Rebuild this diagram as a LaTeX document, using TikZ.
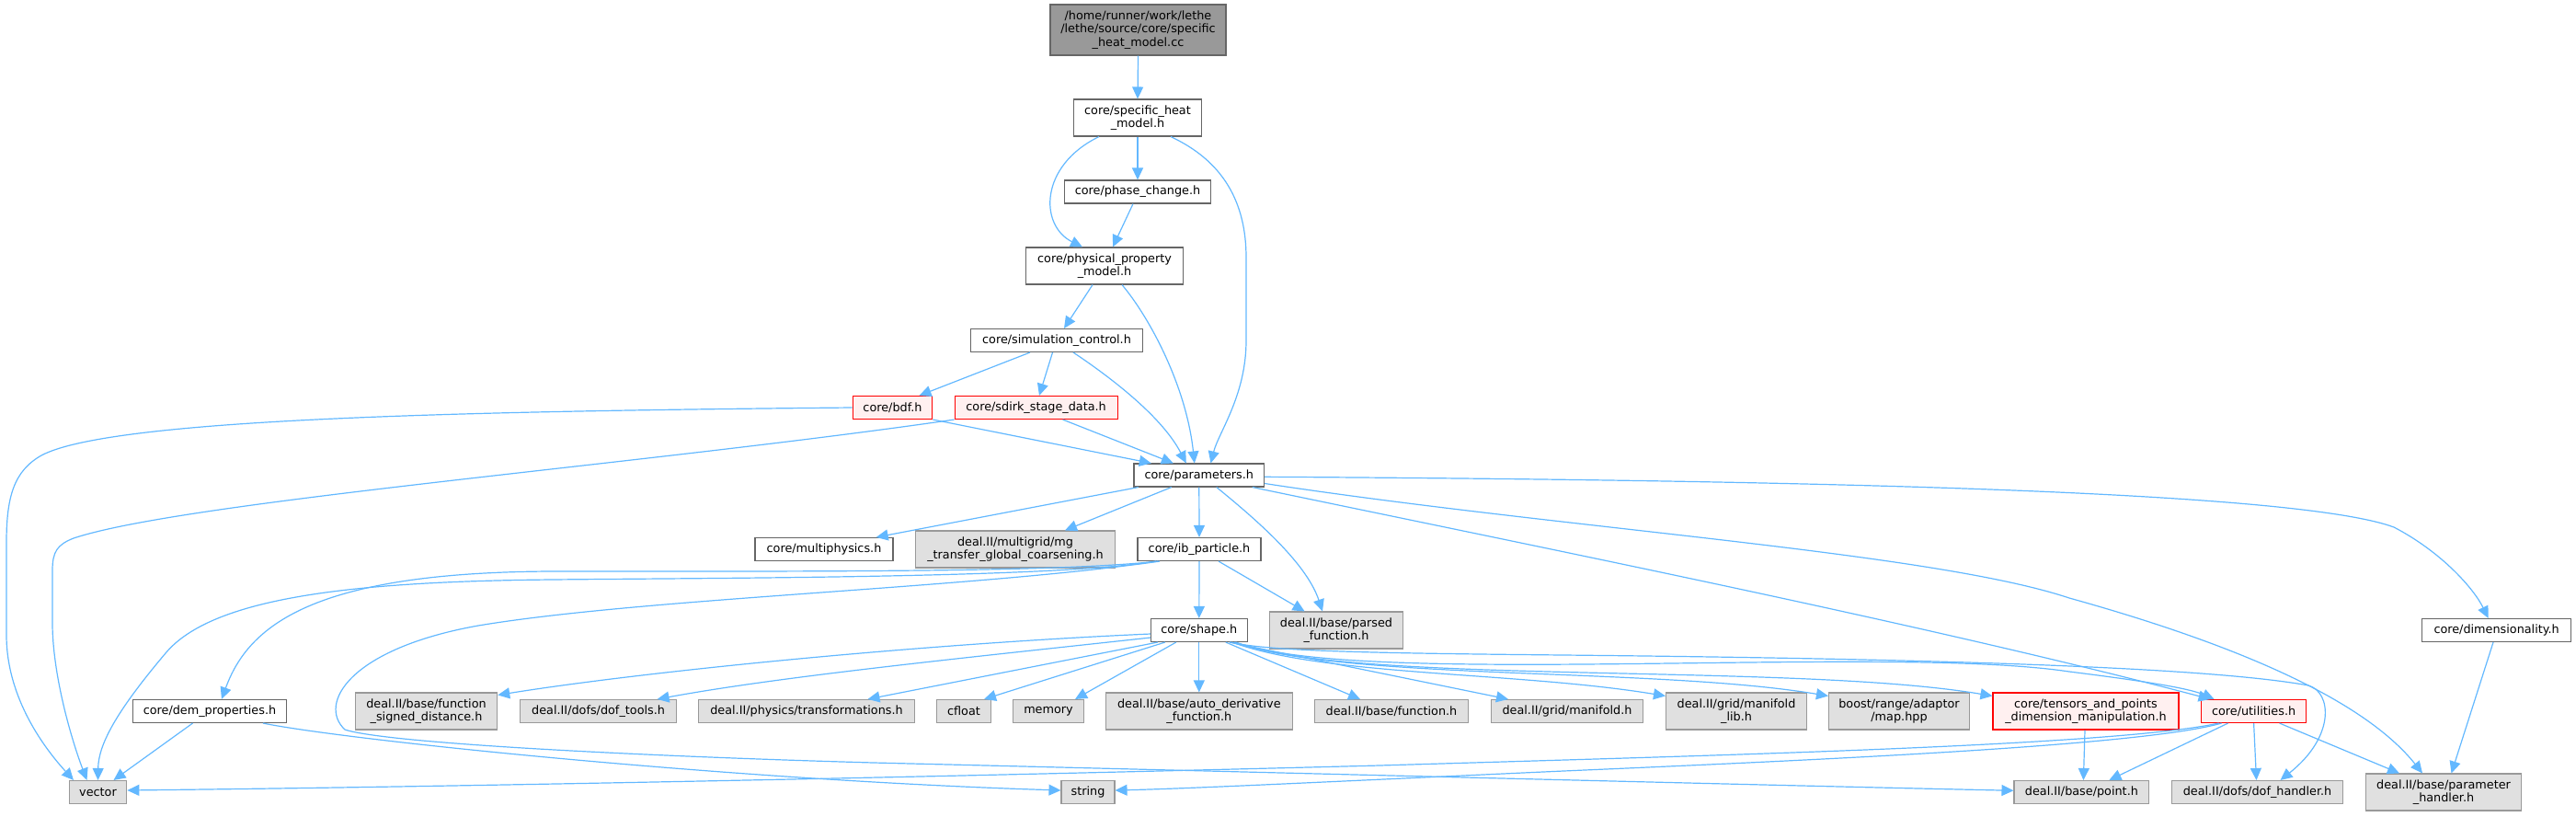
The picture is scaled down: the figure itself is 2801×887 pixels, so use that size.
\documentclass[tikz,border=0pt]{standalone}
\usepackage{fontspec}
\setmainfont{DejaVu Sans}
\usetikzlibrary{arrows.meta}
\definecolor{edgec}{HTML}{63B8FF}
\definecolor{bordc}{HTML}{666666}
\definecolor{extb}{HTML}{999999}
\definecolor{extf}{HTML}{E0E0E0}
\definecolor{rootf}{HTML}{999999}
\definecolor{truncf}{HTML}{FFF0F0}
\begin{document}
\begin{tikzpicture}[x=1pt,y=-1pt,
  box/.style={draw=bordc, line width=1.1pt, fill=white, inner sep=0pt, align=center,
    font=\fontsize{12.8}{14.7}\selectfont},
  ext/.style={box, draw=extb, fill=extf},
  trunc/.style={box, draw=red, fill=truncf},
  rootbox/.style={box, fill=rootf},
  edge/.style={draw=edgec, line width=1.2pt, -{Triangle[length=13pt,width=12pt]}},
]
\useasboundingbox (0,0) rectangle (2801,887);

% nodes
\node[rootbox, minimum width=191pt, minimum height=55pt] (root) at (1237.5,32.5) {/home/runner/work/lethe\\/lethe/source/core/specific\\\_heat\_model.cc};
\node[box, minimum width=139pt, minimum height=40pt] (spec) at (1237,128) {core/specific\_heat\\\_model.h};
\node[box, minimum width=159pt, minimum height=25pt] (phase) at (1237,208.5) {core/phase\_change.h};
\node[box, minimum width=171pt, minimum height=40pt] (phys) at (1201,289) {core/physical\_property\\\_model.h};
\node[box, minimum width=186.6pt, minimum height=25pt] (sim) at (1149,370) {core/simulation\_control.h};
\node[trunc, minimum width=86.6pt, minimum height=25pt] (bdf) at (970.5,443) {core/bdf.h};
\node[trunc, minimum width=177pt, minimum height=25pt] (sdirk) at (1126.6,443) {core/sdirk\_stage\_data.h};
\node[box, minimum width=141.6pt, minimum height=25pt] (params) at (1303.8,516.5) {core/parameters.h};
\node[box, minimum width=150pt, minimum height=25pt] (mph) at (896,597) {core/multiphysics.h};
\node[ext, minimum width=217pt, minimum height=40pt] (mg) at (1104,597) {deal.II/multigrid/mg\\\_transfer\_global\_coarsening.h};
\node[box, minimum width=134pt, minimum height=25pt] (ib) at (1304,597) {core/ib\_particle.h};
\node[box, minimum width=104.5pt, minimum height=25pt] (shape) at (1303.8,685) {core/shape.h};
\node[ext, minimum width=145.4pt, minimum height=40pt] (parsed) at (1453,685) {deal.II/base/parsed\\\_function.h};
\node[box, minimum width=161.4pt, minimum height=25pt] (dim) at (2714.6,685) {core/dimensionality.h};
\node[box, minimum width=167.7pt, minimum height=25pt] (dem) at (228,773) {core/dem\_properties.h};
\node[ext, minimum width=154.4pt, minimum height=40pt] (fsd) at (463.5,773) {deal.II/base/function\\\_signed\_distance.h};
\node[ext, minimum width=170.5pt, minimum height=25pt] (doft) at (650.6,773) {deal.II/dofs/dof\_tools.h};
\node[ext, minimum width=235pt, minimum height=25pt] (trans) at (877,773) {deal.II/physics/transformations.h};
\node[ext, minimum width=58.7pt, minimum height=25pt] (cfloat) at (1048,773) {cfloat};
\node[ext, minimum width=77.8pt, minimum height=25pt] (memory) at (1140,773) {memory};
\node[ext, minimum width=202.8pt, minimum height=40pt] (autod) at (1303.8,773) {deal.II/base/auto\_derivative\\\_function.h};
\node[ext, minimum width=167pt, minimum height=25pt] (func) at (1513,773) {deal.II/base/function.h};
\node[ext, minimum width=165.2pt, minimum height=25pt] (man) at (1704,773) {deal.II/grid/manifold.h};
\node[ext, minimum width=153pt, minimum height=40pt] (mlib) at (1888,773) {deal.II/grid/manifold\\\_lib.h};
\node[ext, minimum width=153pt, minimum height=40pt] (boost) at (2065,773) {boost/range/adaptor\\/map.hpp};
\node[trunc, minimum width=202pt, minimum height=40pt] (tens) at (2268,773) {core/tensors\_and\_points\\\_dimension\_manipulation.h};
\node[trunc, minimum width=113.8pt, minimum height=25pt] (util) at (2450.6,773) {core/utilities.h};
\node[ext, minimum width=62.6pt, minimum height=25pt] (vector) at (106.5,861) {vector};
\node[ext, minimum width=58pt, minimum height=25pt] (string) at (1183,861) {string};
\node[ext, minimum width=146.8pt, minimum height=25pt] (point) at (2263.4,861) {deal.II/base/point.h};
\node[ext, minimum width=186pt, minimum height=25pt] (dofh) at (2454.5,861) {deal.II/dofs/dof\_handler.h};
\node[ext, minimum width=168.5pt, minimum height=40pt] (ph) at (2657,861) {deal.II/base/parameter\\\_handler.h};

% edges
\draw[edge] (root.south) -- (spec.north);
\draw[edge] (spec.south) -- (phase.north);
\draw[edge] ([xshift=-42pt]spec.south) .. controls (1130,180) and (1130,245) .. ([xshift=-24pt]phys.north);
\draw[edge] ([xshift=36pt]spec.south) .. controls (1330,175) and (1355,220) .. (1355,280) -- (1355,370) .. controls (1355,430) and (1325,470) .. ([xshift=12.7pt]params.north);
\draw[edge] ([xshift=-5pt]phase.south) -- ([xshift=9pt]phys.north);
\draw[edge] ([xshift=-13pt]phys.south) -- ([xshift=8pt]sim.north);
\draw[edge] ([xshift=19pt]phys.south) .. controls (1250,345) and (1290,420) .. ([xshift=-5pt]params.north);
\draw[edge] ([xshift=-29pt]sim.south) -- ([xshift=29pt]bdf.north);
\draw[edge] ([xshift=-4.5pt]sim.south) -- ([xshift=3.4pt]sdirk.north);
\draw[edge] ([xshift=18pt]sim.south) .. controls (1200,405) and (1262,450) .. ([xshift=-14pt]params.north);
\draw[edge] (bdf.south east) -- ([xshift=-52pt]params.north);
\draw[edge] ([xshift=29pt]sdirk.south) -- ([xshift=-28pt]params.north);
\draw[edge] (bdf.west) .. controls (500,447) and (120,455) .. (45,495) .. controls (15,512) and (7,540) .. (7,590) -- (7,690) .. controls (7,760) and (50,815) .. ([xshift=-26.5pt]vector.north);
\draw[edge] (sdirk.south west) .. controls (700,505) and (200,545) .. (80,585) .. controls (62,592) and (57,600) .. (57,620) -- (57,680) .. controls (58,740) and (80,810) .. ([xshift=-12pt]vector.north);
\draw[edge] ([xshift=-66pt]params.south) -- ([xshift=56.7pt]mph.north);
\draw[edge] ([xshift=-30pt]params.south) -- ([xshift=54pt]mg.north);
\draw[edge] (params.south) -- (ib.north);
\draw[edge] ([xshift=19pt]params.south) .. controls (1360,560) and (1420,610) .. ([xshift=-15pt]parsed.north);
\draw[edge] ([yshift=-1.8pt]params.east) .. controls (2000,522) and (2500,535) .. (2603,573) .. controls (2655,600) and (2690,640) .. ([xshift=-9pt]dim.north);
\draw[edge] ([xshift=58pt]params.south) .. controls (1700,600) and (2100,680) .. ([xshift=-47pt]util.north);
\draw[edge] ([yshift=-9pt]params.east) .. controls (1700,575) and (2100,600) .. (2250,650) .. controls (2430,700) and (2570,760) .. ([xshift=-23pt]ph.north);
\draw[edge] ([xshift=-3.6pt]dim.south) -- ([xshift=8.5pt]ph.north);
\draw[edge] (ib.south) -- (shape.north);
\draw[edge] ([xshift=21pt]ib.south) -- ([xshift=-34.4pt]parsed.north);
\draw[edge] ([xshift=-45pt]ib.south) .. controls (1150,622) and (900,621) .. (600,621) .. controls (340,622) and (270,680) .. ([xshift=13pt]dem.north);
\draw[edge] ([xshift=-47pt]ib.south) .. controls (1150,628) and (800,628) .. (600,630) .. controls (380,632) and (230,650) .. (180,710) .. controls (125,775) and (107,810) .. (vector.north);
\draw[edge] ([xshift=-43pt]ib.south) .. controls (1050,640) and (700,650) .. (520,680) .. controls (380,705) and (345,765) .. (375,793) .. controls (420,808) and (700,822) .. (950,829) .. controls (1400,840) and (1900,853) .. ([yshift=1.7pt]point.west);
\draw[edge] ([xshift=-18.5pt]dem.south) -- ([xshift=17pt]vector.north);
\draw[edge] ([xshift=58pt]dem.south) .. controls (380,805) and (800,848) .. ([yshift=2pt]string.west);
\draw[edge] ([yshift=-4pt]shape.west) .. controls (1000,700) and (700,730) .. ([yshift=-3pt]fsd.north east);
\draw[edge] ([yshift=-8pt]shape.west) .. controls (1050,715) and (850,735) .. ([xshift=64pt]doft.north);
\draw[edge] ([xshift=-45pt]shape.south) -- ([xshift=66.5pt]trans.north);
\draw[edge] ([xshift=-37pt]shape.south) -- ([xshift=22pt]cfloat.north);
\draw[edge] ([xshift=-25pt]shape.south) -- ([xshift=29pt]memory.north);
\draw[edge] (shape.south) -- (autod.north);
\draw[edge] ([xshift=29pt]shape.south) -- ([xshift=-34pt]func.north);
\draw[edge] ([xshift=33pt]shape.south) -- ([xshift=-64pt]man.north);
\draw[edge] ([xshift=36pt]shape.south) .. controls (1440,735) and (1650,730) .. ([yshift=-4pt]mlib.north west);
\draw[edge] ([xshift=38pt]shape.south) .. controls (1460,740) and (1800,725) .. ([yshift=-4pt]boost.north west);
\draw[edge] ([xshift=39pt]shape.south) .. controls (1470,745) and (1950,720) .. ([yshift=-4pt]tens.north west);
\draw[edge] ([xshift=40pt]shape.south) .. controls (1480,748) and (2050,700) .. (2250,730) .. controls (2330,740) and (2380,748) .. ([xshift=-43pt]util.north);
\draw[edge] ([xshift=34pt]shape.south) .. controls (1380,708) and (1500,710) .. (1700,712) .. controls (2100,716) and (2400,725) .. (2510,745) .. controls (2535,752) and (2540,800) .. ([xshift=25pt]dofh.north);
\draw[edge] ([xshift=-1pt]tens.south) -- ([xshift=2pt]point.north);
\draw[edge] ([xshift=-28pt]util.south) -- ([xshift=30pt]point.north);
\draw[edge] (util.south) -- ([xshift=-1pt]dofh.north);
\draw[edge] ([xshift=28pt]util.south) -- ([xshift=-48pt]ph.north);
\draw[edge] ([xshift=-38pt]util.south) .. controls (2300,810) and (1900,820) .. (1500,832) .. controls (1000,845) and (500,855) .. ([yshift=2pt]vector.east);
\draw[edge] ([xshift=-35pt]util.south) .. controls (2330,810) and (2000,825) .. (1700,838) .. controls (1500,847) and (1300,857) .. ([yshift=2pt]string.east);
\end{tikzpicture}
\end{document}
